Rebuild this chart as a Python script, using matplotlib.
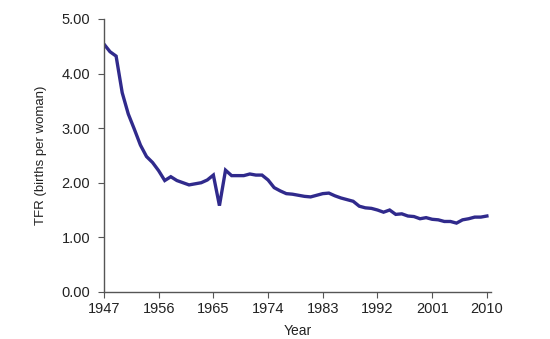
import matplotlib
matplotlib.use("Agg")
import matplotlib.pyplot as plt

# Total fertility rate, Japan, 1947-2010
years = list(range(1947, 2011))
tfr = [4.54, 4.40, 4.32, 3.65, 3.26, 2.98, 2.69, 2.48, 2.37, 2.22,
       2.04, 2.11, 2.04, 2.00, 1.96, 1.98, 2.00, 2.05, 2.14, 1.58,
       2.23, 2.13, 2.13, 2.13, 2.16, 2.14, 2.14, 2.05, 1.91, 1.85,
       1.80, 1.79, 1.77, 1.75, 1.74, 1.77, 1.80, 1.81, 1.76, 1.72,
       1.69, 1.66, 1.57, 1.54, 1.53, 1.50, 1.46, 1.50, 1.42, 1.43,
       1.39, 1.38, 1.34, 1.36, 1.33, 1.32, 1.29, 1.29, 1.26, 1.32,
       1.34, 1.37, 1.37, 1.39]
xticks = list(range(1947, 2011, 9))
yticks = [0, 1, 2, 3, 4, 5]

plt.rcParams['font.family'] = ['Liberation Sans', 'DejaVu Sans']

fig = plt.figure(figsize=(5.5, 3.39), dpi=100)
ax = fig.add_axes([0.189, 0.139, 0.704, 0.805])

ax.plot(years, tfr, color='#302a8c', linewidth=2.4, solid_joinstyle='miter')

ax.set_xlim(1947, 2010.7)
ax.set_ylim(0, 5)
ax.set_xticks(xticks)
ax.set_yticks(yticks)
ax.set_yticklabels(['%.2f' % v for v in yticks])

for s in ['top', 'right']:
    ax.spines[s].set_visible(False)
for s in ['left', 'bottom']:
    ax.spines[s].set_color('#555555')
    ax.spines[s].set_linewidth(1.0)
ax.tick_params(direction='out', length=4, color='#555555', labelsize=10.5,
               labelcolor='#222222', pad=3)
ax.tick_params(axis='y', pad=6)

ax.set_xlabel('Year', fontsize=10, color='#222222', labelpad=6)
ax.set_ylabel('TFR (births per woman)', fontsize=9.5, color='#222222', labelpad=10)

fig.savefig('out.png', dpi=100)
